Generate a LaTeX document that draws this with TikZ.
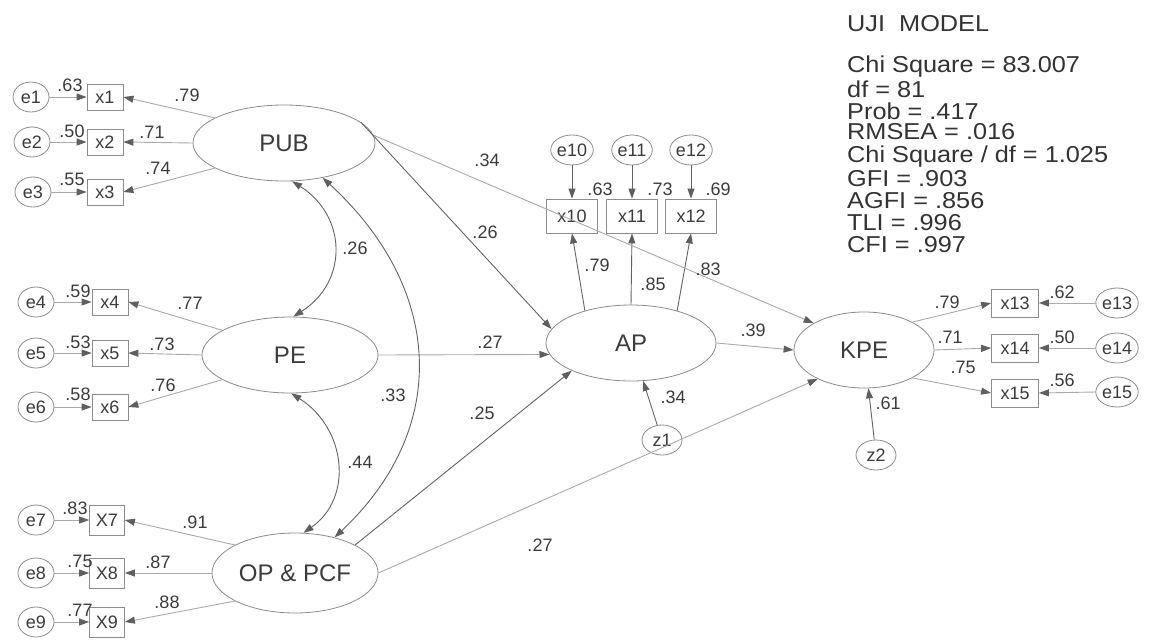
\documentclass[tikz,border=0pt]{standalone}
\usepackage{fontspec}
\setmainfont{Liberation Sans}
\newfontfamily\statfont[FakeStretch=1.1]{Liberation Sans}
\usetikzlibrary{shapes.geometric,arrows.meta}
\definecolor{txt}{RGB}{60,60,60}
\definecolor{dk}{RGB}{100,100,100}
\definecolor{lt}{RGB}{170,170,170}
\definecolor{ah}{RGB}{95,95,95}
\definecolor{ell}{RGB}{140,140,140}
\tikzset{
 lat/.style={ellipse,draw=ell,line width=0.8pt,inner sep=0pt,text=txt,font=\fontsize{24}{24}\selectfont},
 obs/.style={rectangle,draw=ell,line width=0.8pt,inner sep=0pt,text=txt,font=\fontsize{18}{18}\selectfont},
 err/.style={ellipse,draw=ell,line width=0.8pt,inner sep=0pt,minimum width=36pt,minimum height=30pt,text=txt,font=\fontsize{18}{18}\selectfont},
 lab/.style={text=txt,inner sep=0pt,font=\fontsize{18}{18}\selectfont},
 stat/.style={text=black!80,inner sep=0pt,anchor=west,font=\statfont\fontsize{23}{21}\selectfont},
 tip/.style={-{Triangle[length=10pt,width=7pt,color=ah]}},
 strong/.style={tip,draw=dk,line width=0.9pt},
 faint/.style={tip,draw=lt,line width=0.9pt},
 cov/.style={{Triangle[length=10pt,width=7pt,color=ah]}-{Triangle[length=10pt,width=7pt,color=ah]},draw=dk,line width=0.9pt},
}
\begin{document}
\begin{tikzpicture}[x=1pt,y=-1pt]
\useasboundingbox[fill=white] (0,0) rectangle (1155,640);

% latent variables
\node[lat,minimum width=182pt,minimum height=76pt] (PUB) at (284,143) {PUB};
\node[lat,minimum width=176pt,minimum height=76pt] (PE) at (290,355) {PE};
\node[lat,minimum width=166pt,minimum height=80pt] (OP) at (295,573) {OP \& PCF};
\node[lat,minimum width=170pt,minimum height=76pt] (AP) at (631,343) {AP};
\node[lat,minimum width=140pt,minimum height=76pt] (KPE) at (864,350) {KPE};
\node[err,minimum width=40pt] (z1) at (662,440) {z1};
\node[err,minimum width=40pt] (z2) at (876,455) {z2};

% observed variables
\foreach \n/\t/\x/\y/\w/\h in {x1/x1/105/97/36/26, x2/x2/105/142/36/26, x3/x3/105/192/36/26,
  x4/x4/110/302/36/26, x5/x5/110/353/36/26, x6/x6/110/407/36/26,
  x7/X7/107/520/35/30, x8/X8/107/573/35/30, x9/X9/107/622/35/30,
  x10/x10/572/216/51/34, x11/x11/632/216/51/34, x12/x12/691/216/51/34,
  x13/x13/1015/303/47/28, x14/x14/1015/348/47/28, x15/x15/1015/393/47/28}
  \node[obs,minimum width=\w pt,minimum height=\h pt] (\n) at (\x,\y) {\t};

% error terms
\foreach \n/\x/\y in {e1/31/97, e2/32/142, e3/33/192, e4/36/302, e5/36/353, e6/36/407,
  e7/36/520, e8/36/573, e9/36/622, e10/572/150, e11/632/150, e12/691/150,
  e13/1117/303, e14/1117/348, e15/1117/392}
  \node[err] (\n) at (\x,\y) {\n};

% error arrows
\foreach \i in {1,...,9} \draw[faint] (e\i.east) -- (x\i.west);
\foreach \i in {10,11,12} \draw[strong] (e\i.south) -- (x\i.north);
\foreach \i in {13,14,15} \draw[faint] (e\i.west) -- (x\i.east);

% loadings
\draw[faint] (PUB.160) -- (x1.east);
\draw[faint] (PUB.west) -- (x2.east);
\draw[faint] (PUB.200) -- (x3.east);
\draw[faint] (PE.160) -- (x4.east);
\draw[faint] (PE.west) -- (x5.east);
\draw[faint] (PE.200) -- (x6.east);
\draw[faint] (OP.155) -- (x7.east);
\draw[faint] (OP.west) -- (x8.east);
\draw[faint] (OP.205) -- (x9.east);
\draw[strong] (AP.145) -- (x10.south);
\draw[strong] (AP.north) -- (x11.south);
\draw[strong] (AP.35) -- (x12.south);
\draw[faint] (KPE.30) -- (x13.west);
\draw[faint] (KPE.east) -- (x14.west);
\draw[faint] (KPE.330) -- (x15.west);

% structural paths
\draw[faint] (PUB.5) -- (KPE.152);
\draw[strong] (PUB.15) -- (AP.170);
\draw[faint] (PE.east) -- (AP.188);
\draw[strong] (OP.25) -- (AP.205);
\draw[faint] (OP.east) -- (KPE.212);
\draw[faint] (AP.east) -- (KPE.west);
\draw[strong] (z1) -- (AP);
\draw[strong] (z2) -- (KPE);

% covariances
\draw[cov] (PUB.282) .. controls +(55,35) and +(55,-35) .. (PE.85);
\draw[cov] (PE.272) .. controls +(55,35) and +(50,-35) .. (OP.78);
\draw[cov] (PUB.318) .. controls +(120,110) and +(117,-110) .. (OP.42);

% labels
\foreach \n/\t/\x/\y in {
  l1/.63/70/85, l2/.50/72/131, l3/.55/72/179,
  l4/.79/187/95, l5/.71/152/132, l6/.74/158/168,
  l7/.59/78/291, l8/.53/78/342, l9/.58/78/394,
  l10/.77/190/303, l11/.73/162/344, l12/.76/163/385,
  l13/.83/75/508, l14/.75/80/561, l15/.77/80/610,
  l16/.91/195/522, l17/.87/158/562, l18/.88/167/602,
  l19/.63/600/189, l20/.73/660/189, l21/.69/718/189,
  l22/.79/597/265, l23/.85/653/284, l24/.83/708/269,
  l25/.34/487/160, l26/.26/485/232, l27/.26/355/248,
  l28/.44/360/462, l29/.33/393/395, l30/.27/490/342,
  l31/.25/482/413, l32/.34/673/397, l33/.39/753/330,
  l34/.61/888/403, l35/.27/540/545,
  l36/.79/947/302, l37/.62/1062/292, l38/.71/950/337,
  l39/.50/1062/337, l40/.75/963/367, l41/.56/1062/380}
  \node[lab] (\n) at (\x,\y) {\t};

% fit statistics
\node[stat] (title) at (847,24) {UJI\ \ MODEL};
\node[stat] (s1) at (847,67) {Chi Square = 83.007};
\node[stat] (s2) at (847,89) {df = 81};
\node[stat] (s3) at (847,111) {Prob = .417};
\node[stat] (s4) at (847,132) {RMSEA = .016};
\node[stat] (s5) at (847,157) {Chi Square / df = 1.025};
\node[stat] (s6) at (847,179) {GFI = .903};
\node[stat] (s7) at (847,201) {AGFI = .856};
\node[stat] (s8) at (847,223) {TLI = .996};
\node[stat] (s9) at (847,245) {CFI = .997};
\end{tikzpicture}
\end{document}
